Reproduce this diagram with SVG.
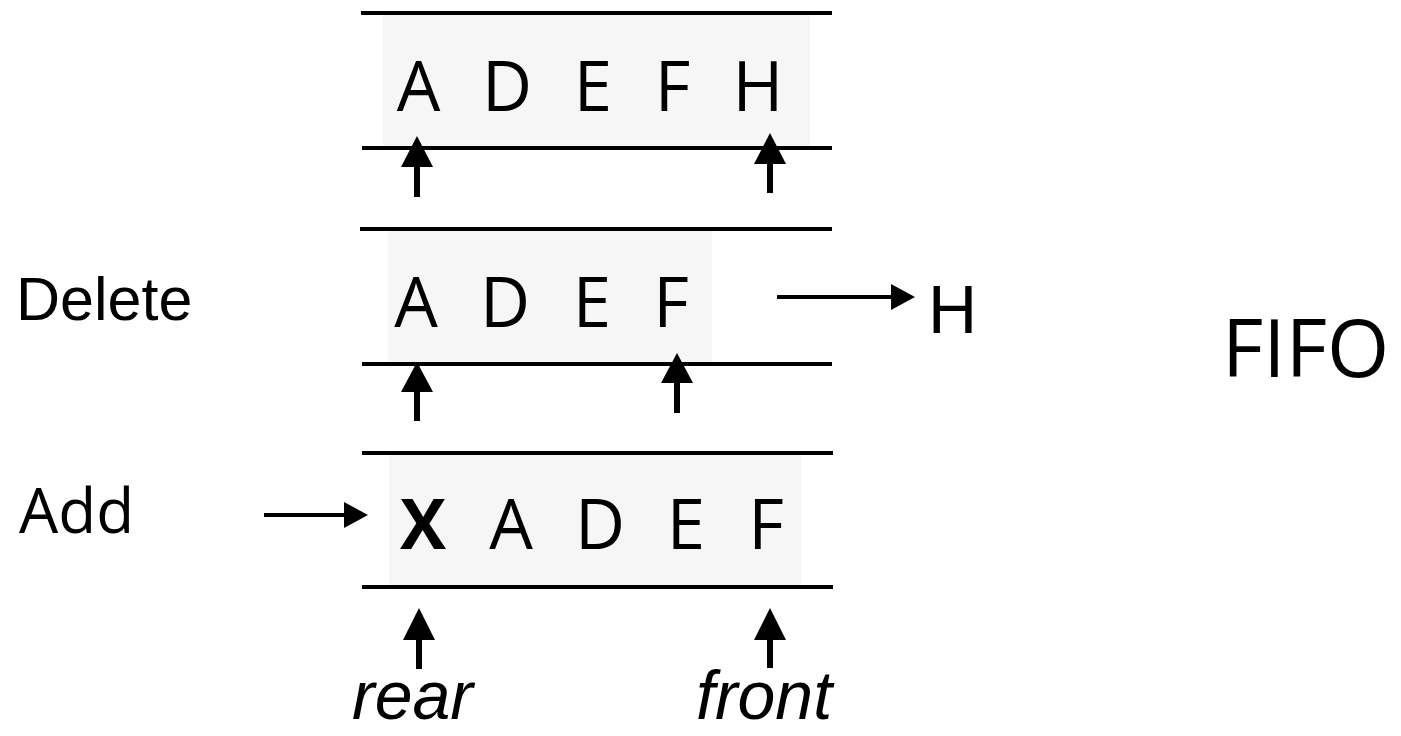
<svg xmlns="http://www.w3.org/2000/svg" width="1401" height="736" viewBox="0 0 1401 736">
<style>
.bg{fill:#f6f6f6;stroke:none}
.rail{stroke:#000;stroke-width:4;fill:none}
.el{font-family:"Open Sans","Noto Sans",sans-serif;font-size:69px;fill:#000;text-anchor:middle}
.lbl{font-family:"Liberation Sans",Arial,sans-serif;fill:#000}
.os{font-family:"Open Sans","Noto Sans",sans-serif;fill:#000}
.vptr{stroke:#000;stroke-width:6;fill:none}
.hptr{stroke:#000;stroke-width:4;fill:none}
.head{fill:#000;stroke:none}
</style>
<rect width="1401" height="736" fill="#fff"/>
<g id="queue-top">
<rect class="bg" x="383" y="15" width="427" height="131"/>
<line class="rail" x1="361" y1="13" x2="832" y2="13"/>
<line class="rail" x1="362" y1="148" x2="832" y2="148"/>
<text class="el" x="418.5" y="111">A</text>
<text class="el" x="507" y="111">D</text>
<text class="el" x="593" y="111">E</text>
<text class="el" x="672.5" y="111">F</text>
<text class="el" x="758" y="111">H</text>
</g>
<g id="queue-mid">
<rect class="bg" x="388" y="231" width="324" height="131"/>
<line class="rail" x1="360" y1="229" x2="832" y2="229"/>
<line class="rail" x1="362" y1="364" x2="832" y2="364"/>
<text class="el" x="416" y="327">A</text>
<text class="el" x="505" y="327">D</text>
<text class="el" x="592" y="327">E</text>
<text class="el" x="671" y="327">F</text>
</g>
<g id="queue-bottom">
<rect class="bg" x="389" y="455" width="412" height="130"/>
<line class="rail" x1="362" y1="453" x2="833" y2="453"/>
<line class="rail" x1="362" y1="587" x2="833" y2="587"/>
<text class="el" x="423" y="549" font-weight="bold">X</text>
<text class="el" x="511" y="549">A</text>
<text class="el" x="600" y="549">D</text>
<text class="el" x="686" y="549">E</text>
<text class="el" x="766" y="549">F</text>
</g>
<g id="label-delete"><text class="lbl" x="16" y="320" font-size="61">Delete</text></g>
<g id="label-add"><text class="os" x="19" y="533" font-size="62">Add</text></g>
<g id="label-h"><text class="lbl" x="928" y="333" font-size="68">H</text></g>
<g id="label-fifo"><text class="os" x="1222" y="377" font-size="80">FIFO</text></g>
<g id="label-rear"><text class="lbl" x="352" y="719" font-size="68" font-style="italic">rear</text></g>
<g id="label-front"><text class="lbl" x="696" y="719" font-size="68" font-style="italic">front</text></g>
<g id="connectors">
<line class="vptr" x1="417" y1="197" x2="417" y2="165"/><path class="head" d="M417,136 L433,167 L401,167 Z"/>
<line class="vptr" x1="770" y1="193" x2="770" y2="162"/><path class="head" d="M770,133 L786,164 L754,164 Z"/>
<line class="vptr" x1="417" y1="421" x2="417" y2="390"/><path class="head" d="M417,362 L433,392 L401,392 Z"/>
<line class="vptr" x1="677" y1="413" x2="677" y2="381"/><path class="head" d="M677,353 L693,383 L661,383 Z"/>
<line class="vptr" x1="419" y1="669" x2="419" y2="638"/><path class="head" d="M419,608 L435,640 L403,640 Z"/>
<line class="vptr" x1="770" y1="668" x2="770" y2="638"/><path class="head" d="M770,608 L786,640 L754,640 Z"/>
<line class="hptr" x1="777" y1="297" x2="893" y2="297"/><path class="head" d="M915,297 L891,284 L891,310 Z"/>
<line class="hptr" x1="264" y1="515" x2="346" y2="515"/><path class="head" d="M368,515 L344,502 L344,528 Z"/>
</g>
</svg>
